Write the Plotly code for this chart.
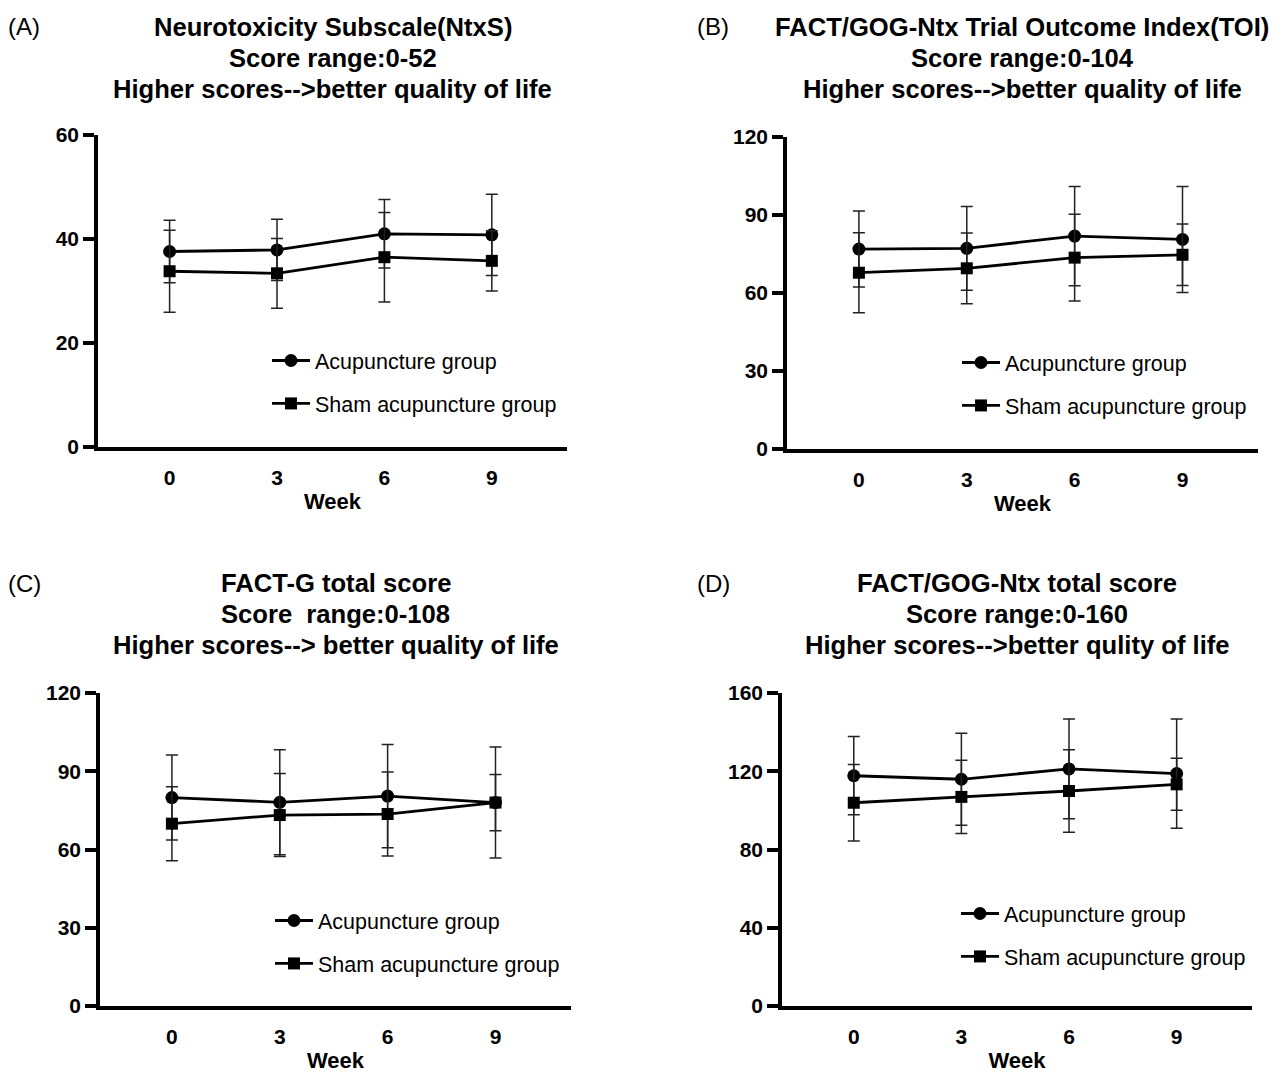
import plotly.graph_objects as go

# ---------------- data ----------------
weeks = [0, 3, 6, 9]
week_labels = ["0", "3", "6", "9"]
series_names = ["Acupuncture group", "Sham acupuncture group"]

# Panel A: Neurotoxicity Subscale
acu_mean_A = [37.6, 37.9, 41.0, 40.8]
acu_sd_A = [6.0, 5.9, 6.6, 7.8]
sham_mean_A = [33.8, 33.4, 36.5, 35.8]
sham_sd_A = [7.9, 6.7, 8.6, 5.8]

# Panel B: TOI
acu_mean_B = [76.9, 77.2, 81.9, 80.6]
acu_sd_B = [14.6, 16.1, 19.1, 20.4]
sham_mean_B = [67.8, 69.5, 73.6, 74.7]
sham_sd_B = [15.4, 13.6, 16.7, 11.8]

# Panel C: FACT-G total
acu_mean_C = [79.9, 78.1, 80.5, 78.0]
acu_sd_C = [16.3, 20.1, 19.8, 21.3]
sham_mean_C = [69.9, 73.2, 73.6, 78.0]
sham_sd_C = [14.2, 15.9, 16.1, 10.8]

# Panel D: FACT/GOG-Ntx total
acu_mean_D = [117.7, 115.9, 121.2, 118.8]
acu_sd_D = [20.0, 23.5, 25.5, 27.9]
sham_mean_D = [103.9, 106.9, 109.9, 113.3]
sham_sd_D = [19.5, 18.7, 21.1, 13.3]

yticks_A = [0, 20, 40, 60]
yticks_B = [0, 30, 60, 90, 120]
yticks_C = [0, 30, 60, 90, 120]
yticks_D = [0, 40, 80, 120, 160]

titles_A = ["Neurotoxicity Subscale(NtxS)", "Score range:0-52", "Higher scores-->better quality of life"]
titles_B = ["FACT/GOG-Ntx Trial Outcome Index(TOI)", "Score range:0-104", "Higher scores-->better quality of life"]
titles_C = ["FACT-G total score", "Score  range:0-108", "Higher scores--> better quality of life"]
titles_D = ["FACT/GOG-Ntx total score", "Score range:0-160", "Higher scores-->better qulity of life"]
panel_letters = ["(A)", "(B)", "(C)", "(D)"]

# ---------------- layout geometry ----------------
W, H = 1285, 1075
FONT = "Liberation Sans, Arial, sans-serif"


def px_x(p):
    return p / W


def px_y(p):
    return 1 - p / H


panels = [
    dict(key="", x0=98, x1=567, y0=135, y1=447,
         acu=(acu_mean_A, acu_sd_A), sham=(sham_mean_A, sham_sd_A), yt=yticks_A,
         titles=titles_A, ttop=27, letter_x=6, leg=(267, 340)),
    dict(key="2", x0=787, x1=1258, y0=137, y1=449,
         acu=(acu_mean_B, acu_sd_B), sham=(sham_mean_B, sham_sd_B), yt=yticks_B,
         titles=titles_B, ttop=27, letter_x=695, leg=(957, 342)),
    dict(key="3", x0=100, x1=571, y0=693, y1=1006,
         acu=(acu_mean_C, acu_sd_C), sham=(sham_mean_C, sham_sd_C), yt=yticks_C,
         titles=titles_C, ttop=583, letter_x=6, leg=(270, 900)),
    dict(key="4", x0=782, x1=1252, y0=693, y1=1006,
         acu=(acu_mean_D, acu_sd_D), sham=(sham_mean_D, sham_sd_D), yt=yticks_D,
         titles=titles_D, ttop=583, letter_x=695, leg=(956, 893)),
]

fig = go.Figure()
annotations = []
layout_updates = {}

for i, p in enumerate(panels):
    k = p["key"]
    xa = "x" + k
    ya = "y" + k
    legname = "legend" + k
    for j, (name, (mean, sd), sym) in enumerate(
        [(series_names[0], p["acu"], "circle"), (series_names[1], p["sham"], "square")]
    ):
        fig.add_trace(go.Scatter(
            x=weeks, y=mean, name=name, mode="lines+markers",
            xaxis=xa, yaxis=ya, legend=legname, legendgroup=f"g{i}{j}",
            line=dict(color="black", width=2.8),
            marker=dict(symbol=sym, size=13 if sym == "circle" else 12, color="black"),
            error_y=dict(type="data", array=sd, visible=True, color="#222222",
                         thickness=1.5, width=6),
        ))

    layout_updates["xaxis" + k] = dict(
        domain=[px_x(p["x0"]), px_x(p["x1"])], anchor=ya, automargin=False,
        range=[-2, 11.1], tickvals=weeks, ticktext=week_labels, ticks="",
        showline=True, linewidth=3.5, linecolor="black", showgrid=False, zeroline=False,
        tickfont=dict(family=FONT, size=21, color="black", weight="bold"),
        ticklabelstandoff=9,
        title=dict(text="Week", standoff=7,
                   font=dict(family=FONT, size=22, color="black", weight="bold")),
    )
    layout_updates["yaxis" + k] = dict(
        domain=[px_y(p["y1"]), px_y(p["y0"])], anchor=xa, automargin=False,
        range=[0, p["yt"][-1]], tickvals=p["yt"], ticks="outside", ticklen=11,
        tickwidth=3.5, tickcolor="black",
        showline=True, linewidth=3.5, linecolor="black", showgrid=False, zeroline=False,
        tickfont=dict(family=FONT, size=21, color="black", weight="bold"),
    )
    layout_updates[legname] = dict(
        x=px_x(p["leg"][0]), y=px_y(p["leg"][1]), xanchor="left", yanchor="top",
        bgcolor="rgba(0,0,0,0)", font=dict(family=FONT, size=21.5, color="black"),
        tracegroupgap=12, itemwidth=38, traceorder="grouped",
    )

    cx = (p["x0"] + p["x1"]) / 2
    for li, t in enumerate(p["titles"]):
        annotations.append(dict(
            text=t, x=px_x(cx), y=px_y(p["ttop"] + li * 31), xref="paper", yref="paper",
            xanchor="center", yanchor="middle", showarrow=False,
            font=dict(family=FONT, size=25.6, color="black", weight="bold"),
        ))
    annotations.append(dict(
        text=panel_letters[i], x=px_x(p["letter_x"]), y=px_y(p["ttop"]),
        xref="paper", yref="paper", xanchor="left", yanchor="middle", showarrow=False,
        font=dict(family=FONT, size=24, color="black"),
    ))

fig.update_layout(
    width=W, height=H, margin=dict(l=0, r=0, t=0, b=0, autoexpand=False),
    paper_bgcolor="white", plot_bgcolor="white",
    showlegend=True, annotations=annotations,
    **layout_updates,
)

fig.write_html(
    "out.html",
    config={"displayModeBar": False},
    post_script="document.body.style.margin='0';document.body.style.overflow='hidden';",
)
